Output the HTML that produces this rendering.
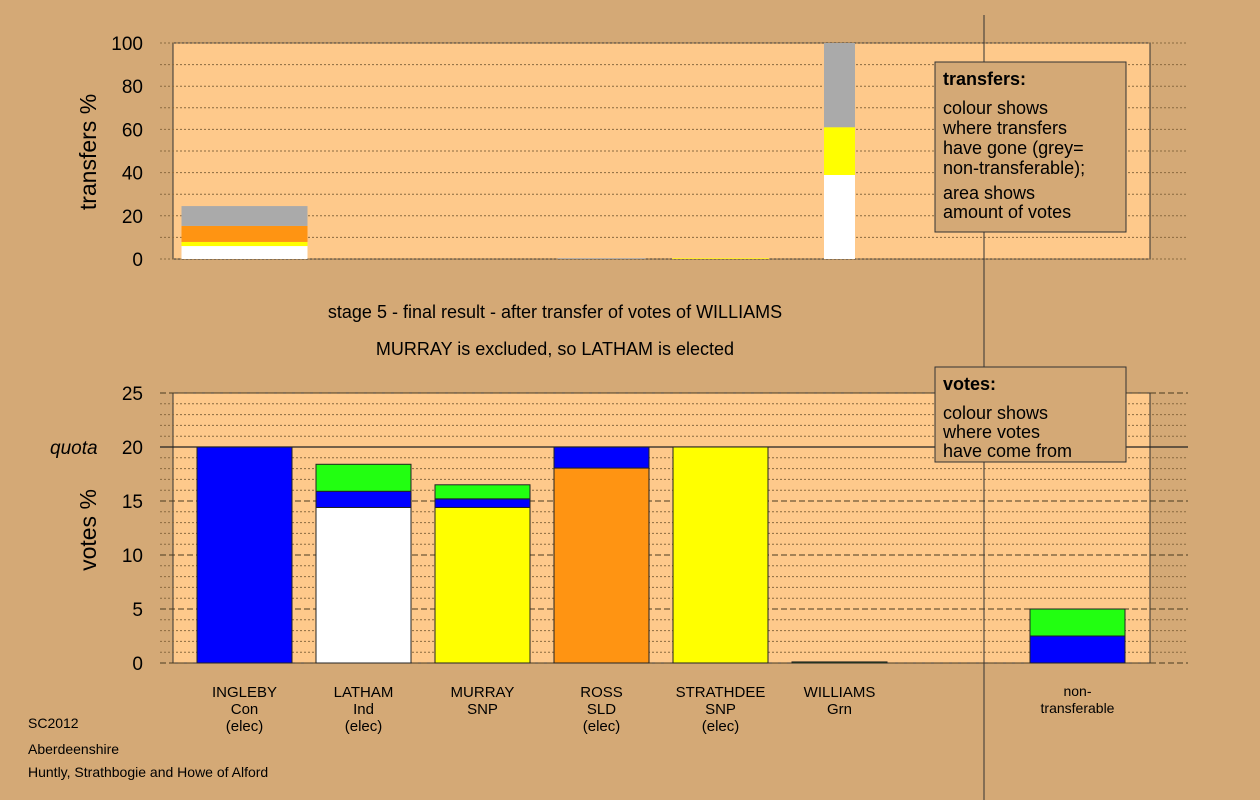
<!DOCTYPE html>
<html><head><meta charset="utf-8"><style>
body{margin:0;background:#d4a976;}
svg{display:block;font-family:"Liberation Sans",sans-serif;}
</style></head><body>
<svg id="c" width="1260" height="800" viewBox="0 0 1260 800">
<rect x="0" y="0" width="1260" height="800" fill="#d4a976"/>
</svg>
<script>
const candidates=["INGLEBY","LATHAM","MURRAY","ROSS","STRATHDEE","WILLIAMS"];
const parties=["Con","Ind","SNP","SLD","SNP","Grn"];
const elected=[true,true,false,true,true,false];
const topTicks=[0,20,40,60,80,100];
const botTicks=[0,5,10,15,20,25];
// transfers % (top panel): cumulative stacks [value,colour]
const transferSlot=[0,3,4,5];
const transferWidth=[126,88,97,31];
const transferStacks=[
 [[6,"#ffffff"],[7.9,"#ffff00"],[15.3,"#ff9412"],[24.5,"#aaaaaa"]],
 [[0.4,"#aaaaaa"]],
 [[0.3,"#ffff00"]],
 [[38.9,"#ffffff"],[61,"#ffff00"],[100,"#aaaaaa"]]
];
// votes % (bottom panel): cumulative
const voteStacks=[
 [[20,"#0000ff"]],
 [[14.4,"#ffffff"],[15.9,"#0000ff"],[18.4,"#22ff11"]],
 [[14.4,"#ffff00"],[15.2,"#0000ff"],[16.5,"#22ff11"]],
 [[18.05,"#ff9412"],[20,"#0000ff"]],
 [[20,"#ffff00"]],
 [[0.1,"#22ff11"]],
 [],
 [[2.5,"#0000ff"],[5,"#22ff11"]]
];
const quota=20;

const svg=document.getElementById('c');
const NS="http://www.w3.org/2000/svg";
function el(t,a,txt){const e=document.createElementNS(NS,t);for(const k in a)e.setAttribute(k,a[k]);if(txt!==undefined)e.textContent=txt;svg.appendChild(e);return e;}
const yTop=v=>259-v*2.16;
const yBot=v=>663-v*10.8;
const xc=i=>244.5+i*119;

// panels
let p=el('rect',{x:173,y:43,width:977,height:216,fill:"#fec98b",stroke:"#333","stroke-width":1});

p=el('rect',{x:173,y:393,width:977,height:270,fill:"#fec98b",stroke:"#333","stroke-width":1});


// top grid
for(let v=0;v<=100;v+=10){let g=el('line',{x1:160,x2:1188,y1:yTop(v),y2:yTop(v),stroke:"#8a6a40","stroke-width":1,"stroke-dasharray":"2,2"});
}
// bottom grid
for(let v=0;v<=25;v++){const major=v%5===0;let g=el('line',{x1:160,x2:1188,y1:yBot(v),y2:yBot(v),stroke:major?"#4a3a20":"#8a6a40","stroke-width":1,"stroke-dasharray":major?"6,3":"2,2"});
}
let q=el('line',{x1:160,x2:1188,y1:yBot(quota),y2:yBot(quota),stroke:"#222","stroke-width":1.3});


// top bars
transferStacks.forEach((st,k)=>{let prev=0;const w=transferWidth[k];const cx=xc(transferSlot[k]);
 st.forEach(([v,c])=>{let r=el('rect',{x:cx-w/2,y:yTop(v),width:w,height:yTop(prev)-yTop(v),fill:c});
 prev=v;});});

// bottom bars
voteStacks.forEach((st,i)=>{let prev=0;
 st.forEach(([v,c])=>{let r=el('rect',{x:xc(i)-47.5,y:yBot(v),width:95,height:yBot(prev)-yBot(v),fill:c,stroke:"#222","stroke-width":1});
 prev=v;});});

// axes ticks
topTicks.forEach(v=>{let t=el('text',{x:143,y:yTop(v)+7,"font-size":19,"text-anchor":"end",fill:"#000"},v);
 });
botTicks.forEach(v=>{let t=el('text',{x:143,y:yBot(v)+7,"font-size":19,"text-anchor":"end",fill:"#000"},v);
 });
let qt=el('text',{x:50,y:yBot(quota)+7,"font-size":19,"font-style":"italic",fill:"#000"},"quota");


let ya=el('text',{x:96,y:152,"font-size":23,"text-anchor":"middle",transform:"rotate(-90 96 152)"},"transfers %");

ya=el('text',{x:96,y:530,"font-size":23,"text-anchor":"middle",transform:"rotate(-90 96 530)"},"votes %");


// titles
let t1=el('text',{x:555,y:318,"font-size":18,"text-anchor":"middle"},"stage 5 - final result - after transfer of votes of WILLIAMS");

t1=el('text',{x:555,y:355,"font-size":18,"text-anchor":"middle"},"MURRAY is excluded, so LATHAM is elected");


// x labels
candidates.forEach((n,i)=>{const lines=[n,parties[i]];if(elected[i])lines.push("(elec)");
 lines.forEach((s,j)=>{let t=el('text',{x:xc(i),y:697+j*17,"font-size":15,"text-anchor":"middle"},s);
 });});
["non-","transferable"].forEach((s,j)=>{let t=el('text',{x:xc(7),y:696+j*17,"font-size":14,"text-anchor":"middle"},s);
 });

// divider
let d=el('line',{x1:984,x2:984,y1:15,y2:800,stroke:"#333","stroke-width":1});


// legends
function box(y,h,lines,name){let r=el('rect',{x:935,y:y,width:191,height:h,fill:"#d4a976",stroke:"#333","stroke-width":1});
 
 lines.forEach(([s,yy,b])=>{let t=el('text',{x:943,y:yy,"font-size":18,"font-weight":b?"bold":"normal"},s);
 });}
box(62,170,[["transfers:",85,1],["colour shows",114],["where transfers",134],["have gone (grey=",154],["non-transferable);",174],["area shows",199],["amount of votes",218]],'transfers-legend');
box(367,95,[["votes:",390,1],["colour shows",419],["where votes",438],["have come from",457]],'votes-legend');

// footer
[["SC2012",728],["Aberdeenshire",754],["Huntly, Strathbogie and Howe of Alford",777]].forEach(([s,y])=>{
 let t=el('text',{x:28,y:y,"font-size":14},s);});
</script>
</body></html>
